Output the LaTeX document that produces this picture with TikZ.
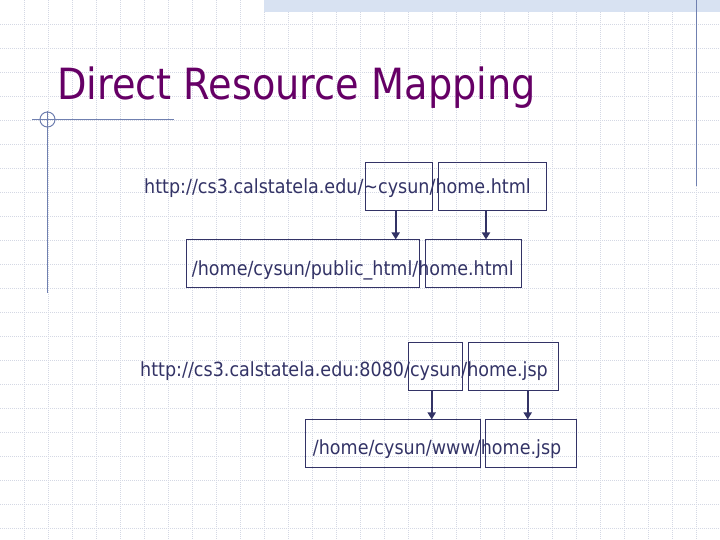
\documentclass[tikz,border=0pt]{standalone}
\usepackage{fontspec}
\setmainfont{DejaVu Sans}[FakeStretch=0.90]
\newfontfamily\slidetitlefont{DejaVu Sans}[FakeStretch=0.89]
\usetikzlibrary{arrows.meta}
\definecolor{gridc}{RGB}{212,216,228}
\definecolor{bandc}{RGB}{216,226,242}
\definecolor{decoc}{RGB}{112,128,176}
\definecolor{titlec}{RGB}{102,0,102}
\definecolor{inkc}{RGB}{51,51,102}
\tikzset{
  gridline/.style={draw=gridc, line width=0.8pt, dash pattern=on 1pt off 1pt},
  deco/.style={draw=decoc, line width=1pt},
  txt/.style={inner sep=0pt, text=inkc, font=\fontsize{19.5}{22}\selectfont},
  titletxt/.style={inner sep=0pt, text=titlec, font=\slidetitlefont\fontsize{43}{48}\selectfont},
  urlbox/.style={draw=inkc, line width=1pt, inner sep=0pt},
  arr/.style={draw=inkc, line width=2.2pt, -{Triangle[width=8pt,length=7pt]}}
}
\begin{document}
\begin{tikzpicture}[x=1pt,y=-1pt]
\useasboundingbox[fill=white] (0,0) rectangle (720,540);
% grid
\foreach \i in {24,48,...,696} \draw[gridline] (\i,0) -- (\i,540);
\foreach \j in {24,48,...,528} \draw[gridline] (0,\j) -- (720,\j);
% top band
\fill[bandc] (264,0) rectangle (720,12);
% decorations
\draw[deco] (32,120) -- (174,120);
\draw[deco] (47.7,111) -- (47.7,293);
\draw[deco] (47.5,119.5) circle[radius=7.5];
\draw[deco] (696,0) -- (696,186);
% title
\node[titletxt, anchor=base west] (title) at (57,100) {Direct Resource Mapping};
% boxes
\node[urlbox, minimum width=66.7pt, minimum height=48pt] (b1) at (399.3,186.3) {};
\node[urlbox, minimum width=108.4pt, minimum height=48pt] (b2) at (492.5,186.3) {};
\node[urlbox, minimum width=233.3pt, minimum height=47.7pt] (b3) at (303.3,263.8) {};
\node[urlbox, minimum width=95.7pt, minimum height=47.7pt] (b4) at (473.8,263.8) {};
\node[urlbox, minimum width=54pt, minimum height=48pt] (b5) at (435.3,366.3) {};
\node[urlbox, minimum width=90pt, minimum height=48pt] (b6) at (513.3,366.3) {};
\node[urlbox, minimum width=174.7pt, minimum height=47.7pt] (b7) at (393.3,443.8) {};
\node[urlbox, minimum width=90.7pt, minimum height=47.7pt] (b8) at (531.3,443.8) {};
% texts
\node[txt, anchor=base west] (l1) at (144,193.5) {http://cs3.calstatela.edu/\textasciitilde cysun/home.html};
\node[txt, anchor=base west] (l2) at (191.7,275) {/home/cysun/public\_html/home.html};
\node[txt, anchor=base west] (l3) at (140,376) {http://cs3.calstatela.edu:8080/cysun/home.jsp};
\node[txt, anchor=base west] (l4) at (312.7,454) {/home/cysun/www/home.jsp};
% arrows
\coordinate (a1) at ([xshift=-3.6pt]b1.south);
\coordinate (a2) at ([xshift=-6.5pt]b2.south);
\coordinate (a3) at ([xshift=-3.6pt]b5.south);
\coordinate (a4) at ([xshift=14.4pt]b6.south);
\draw[arr] (a1) -- (a1 |- b3.north);
\draw[arr] (a2) -- (a2 |- b4.north);
\draw[arr] (a3) -- (a3 |- b7.north);
\draw[arr] (a4) -- (a4 |- b8.north);
\end{tikzpicture}
\end{document}
